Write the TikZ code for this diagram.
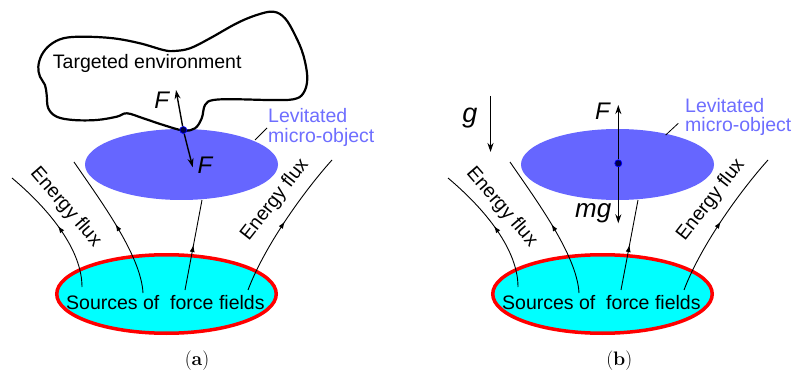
\documentclass[tikz,border=0pt]{standalone}
\usepackage{fontspec}
\setsansfont{Liberation Sans}
\usetikzlibrary{arrows.meta,shapes.geometric,decorations.markings}
\definecolor{objblue}{RGB}{102,102,255}
\definecolor{labblue}{RGB}{110,110,255}
\definecolor{srccyan}{RGB}{0,255,255}
\definecolor{dotnavy}{RGB}{0,0,70}
\tikzset{
  txt/.style={font=\sffamily\fontsize{19.5}{20}\selectfont, inner sep=0pt},
  symb/.style={font=\sffamily\itshape\fontsize{24}{24}\selectfont, inner sep=0pt},
  force/.style={line width=1.4pt, -{Stealth[length=9pt,width=6pt]}},
  flux/.style={line width=0.9pt, postaction={decorate},
    decoration={markings, mark=at position 0.5 with {\arrow{Latex[length=7pt,width=5pt]}}}},
  leader/.style={line width=0.8pt},
  objnode/.style={ellipse, fill=objblue, draw=none, minimum width=193pt, minimum height=71pt, inner sep=0pt},
  srcnode/.style={ellipse, fill=srccyan, draw=red, line width=3.5pt, minimum width=219.5pt, minimum height=78.5pt, inner sep=0pt},
  dotnode/.style={circle, fill=dotnavy, draw=blue, line width=0.7pt, minimum size=7pt, inner sep=0pt},
  captext/.style={font=\rmfamily\fontsize{19.5}{20}\selectfont, inner sep=0pt}
}
\newcommand\commonpanel{%
  \node[srcnode] (src) at (166.5,294) {};
  \node[objnode] (obj) at (181.5,164.5) {};
  \coordinate (f1b) at (82,287);  \coordinate (f1t) at (12,178);
  \coordinate (f2b) at (143,293); \coordinate (f2t) at (74,162);
  \coordinate (f3b) at (185,290); \coordinate (f3t) at (202,200);
  \coordinate (f4b) at (248,290); \coordinate (f4t) at (332,160);
  \draw[flux] (f1b) .. controls (82,250) and (50,210) .. (f1t);
  \draw[flux] (f2b) .. controls (141,255) and (100,200) .. (f2t);
  \draw[flux] (f3b) -- (f3t);
  \draw[flux] (f4b) .. controls (265,245) and (305,190) .. (f4t);
  \node[txt, anchor=base west] (srctext) at (66,309) {Sources of\ \ force fields};
  \node[txt, rotate=-49] (fluxl) at (65.7,207.4) {Energy flux};
  \node[txt, rotate=52] (fluxr) at (275,200) {Energy flux};
}
\begin{document}
\begin{tikzpicture}[x=1pt,y=-1pt]
\useasboundingbox (0,0) rectangle (795,374);
% ---------------- panel (a)
\begin{scope}[name prefix=a-]
  \commonpanel
  \draw[line width=2.2pt, line join=round] plot[smooth cycle, tension=0.6] coordinates {
    (38.3,66.7) (41.7,55) (50,45) (63.3,38.3) (83.3,36.7) (113.3,38.3) (140,43.3)
    (163.3,50) (174,51) (190,48.3) (210,38.3) (236.7,23.3) (256.7,15) (273.3,11.7)
    (285,18.3) (295,35) (303.3,55) (307.3,78.3) (303.3,93.3) (293.3,99.3) (270,100)
    (236.7,99.3) (213.3,100) (205,105) (201.7,118.3) (195,128.3) (183.3,130.5)
    (163.3,125) (143.3,118.3) (127,113.3) (116.7,116.7) (96.7,120) (73.3,120)
    (56.7,116.7) (48.3,108.3) (46.7,95) (45,85) (40,76.7)};
  \node[txt, anchor=base west] (env) at (52.7,68.3) {Targeted environment};
  \coordinate (fup) at (176,90);
  \coordinate (fdown) at (192.7,167.3);
  \node[dotnode] (dot) at (183.3,130) {};
  \draw[force] (dot) -- (fup);
  \draw[force] (dot) -- (fdown);
  \node[symb] (Fu) at (161.7,100.7) {F};
  \node[symb] (Fd) at (205,165) {F};
  \node[txt, text=labblue, anchor=base west] (lev1) at (268,122.7) {Levitated};
  \node[txt, text=labblue, anchor=base west] (lev2) at (268,142.5) {micro-object};
  \coordinate (ld1) at (255,140); \coordinate (ld2) at (267,128);
  \draw[leader] (ld1) -- (ld2);
  \node[captext] (capa) at (197,361) {(\textbf{a})};
\end{scope}
% ---------------- panel (b)
\begin{scope}[xshift=436pt, name prefix=b-]
  \commonpanel
\end{scope}
\begin{scope}[name prefix=b-]
  \coordinate (fup) at (618.3,105);
  \coordinate (fdown) at (618.3,223.3);
  \node[dotnode] (dot) at (618.3,163.3) {};
  \draw[force] (dot) -- (fup);
  \draw[force] (dot) -- (fdown);
  \node[symb] (F) at (602.5,111.7) {F};
  \node[symb, font=\sffamily\itshape\fontsize{26}{26}\selectfont] (mg) at (593.3,213.3) {mg};
  \coordinate (gtop) at (490.5,96); \coordinate (gbot) at (490.5,152);
  \draw[force] (gtop) -- (gbot);
  \node[symb, font=\sffamily\itshape\fontsize{27}{27}\selectfont] (g) at (470,118.3) {g};
  \node[txt, text=labblue, anchor=base west] (lev1) at (685,112.7) {Levitated};
  \node[txt, text=labblue, anchor=base west] (lev2) at (685,132) {micro-object};
  \coordinate (ld1) at (665.7,135); \coordinate (ld2) at (678.3,123.3);
  \draw[leader] (ld1) -- (ld2);
  \node[captext] (capb) at (619.3,361) {(\textbf{b})};
\end{scope}
\end{tikzpicture}
\end{document}
